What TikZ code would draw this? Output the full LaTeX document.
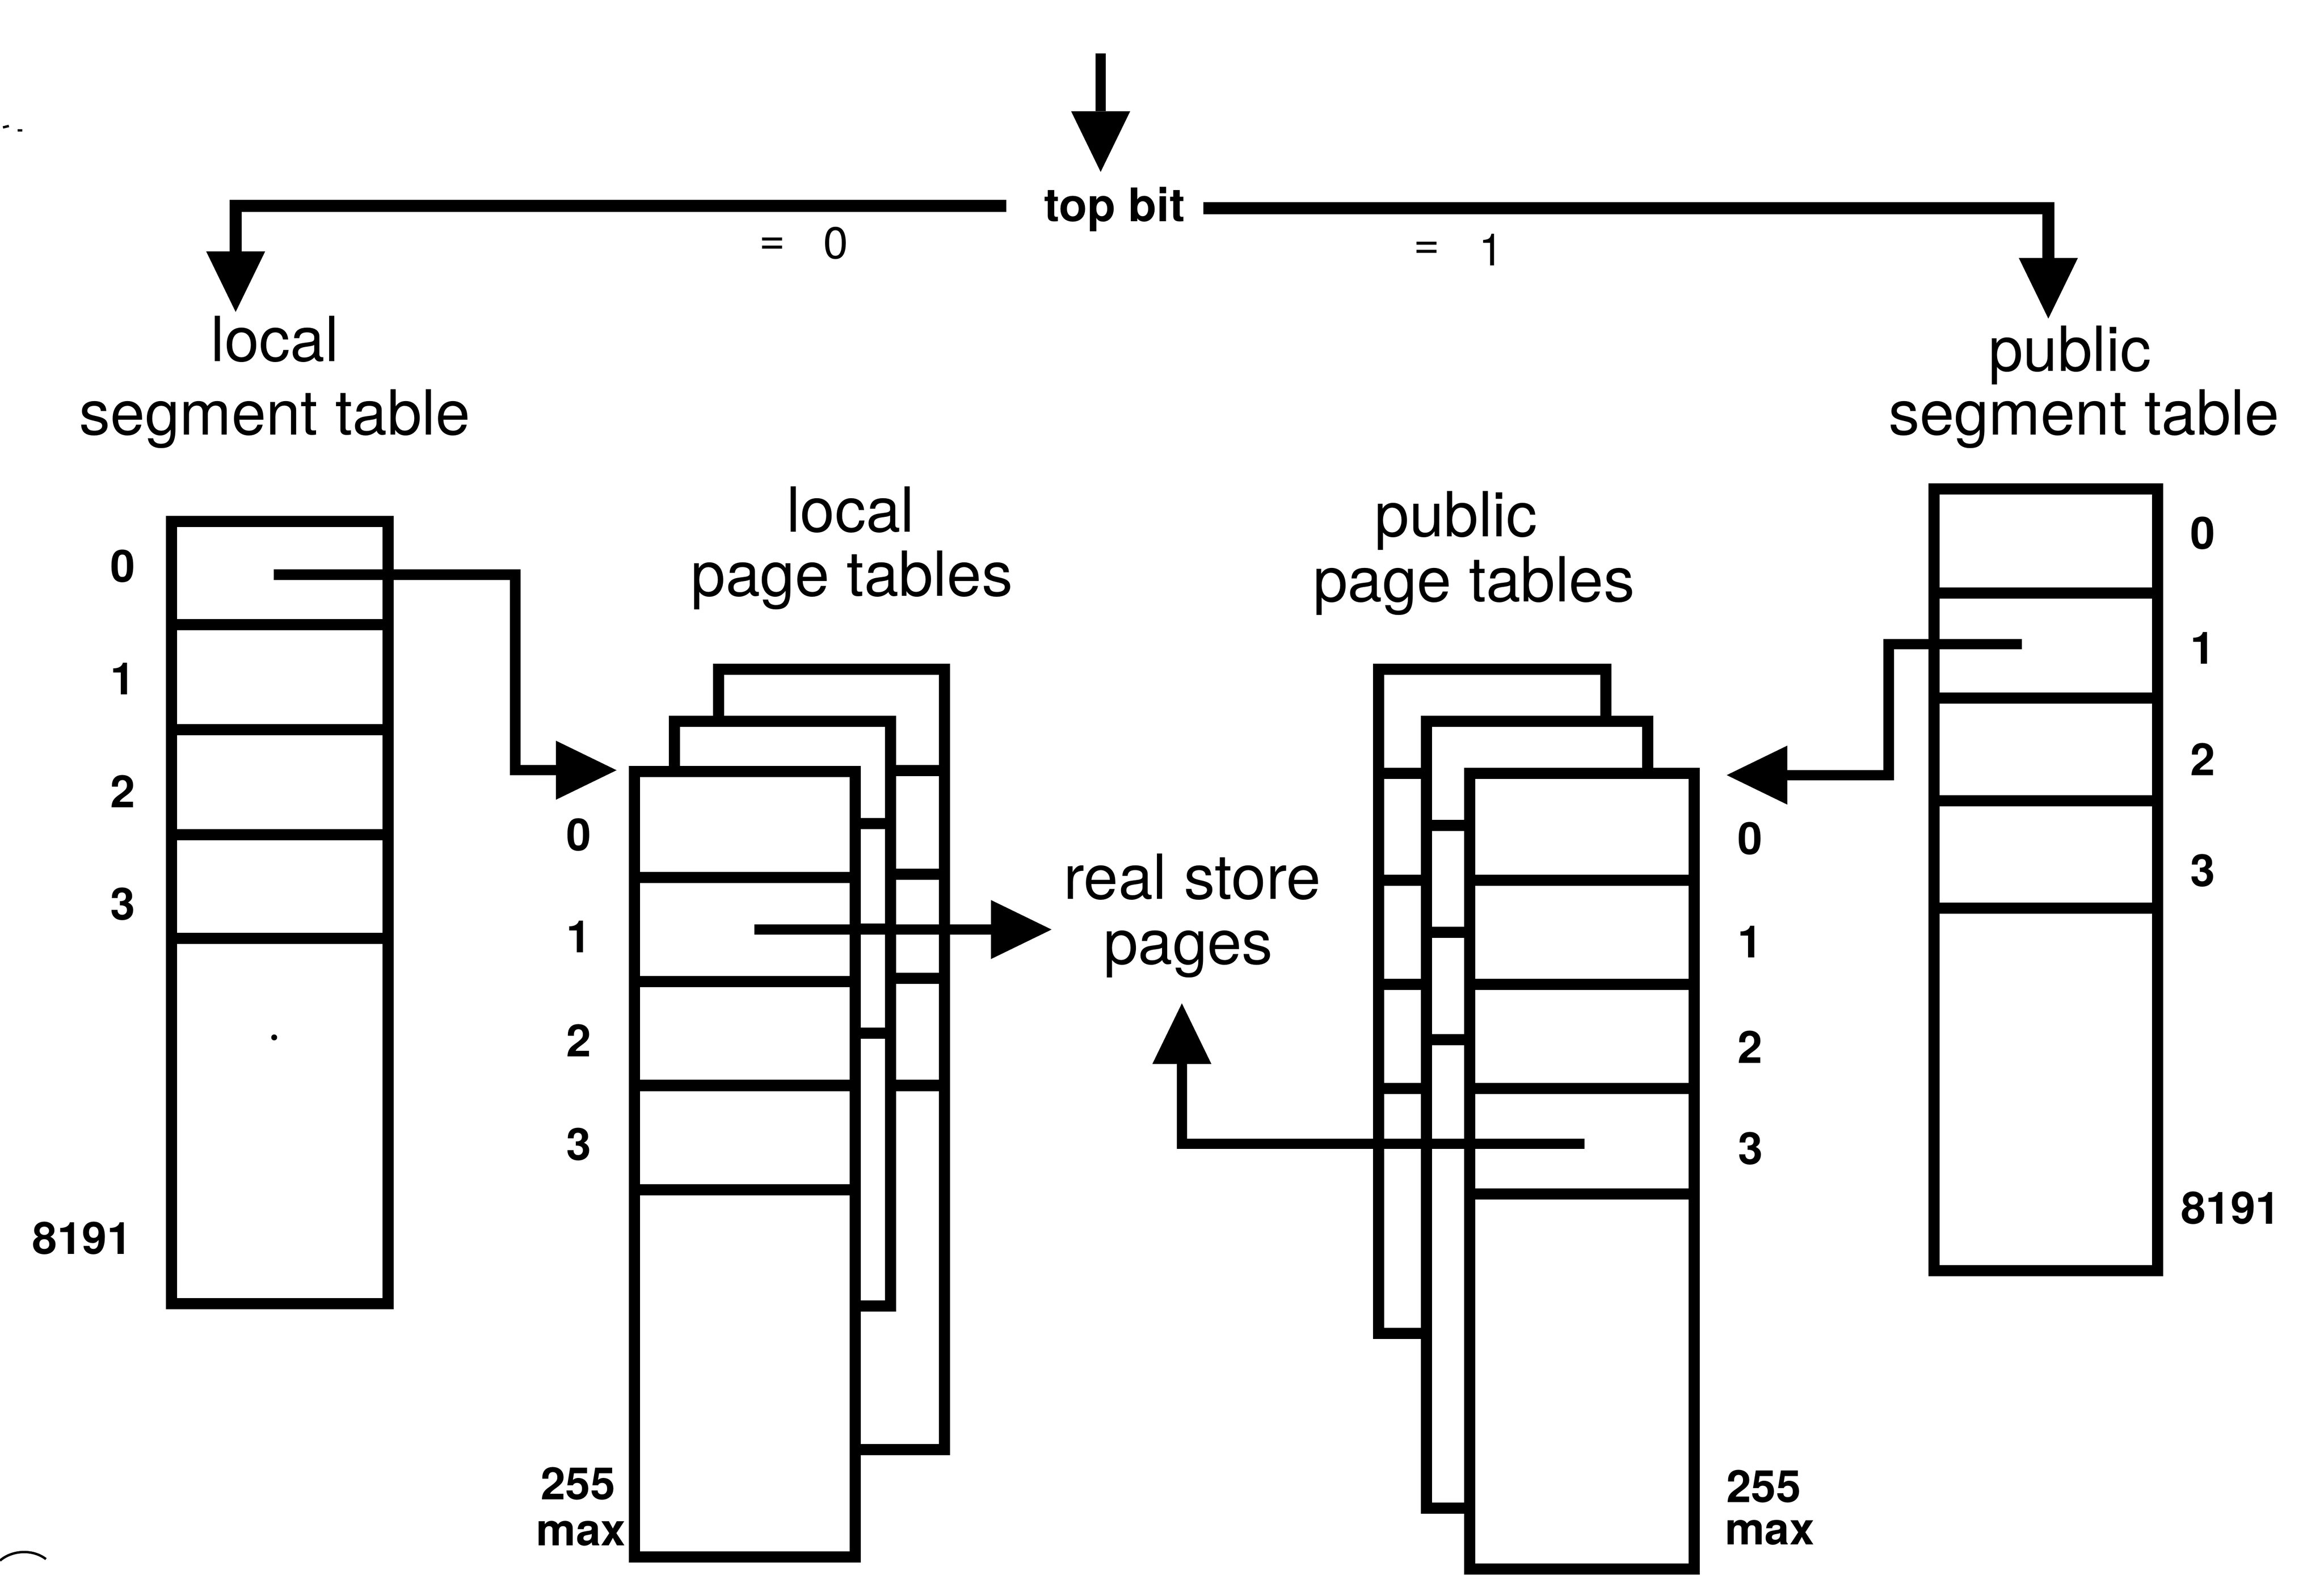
\documentclass[tikz,border=0pt]{standalone}
\usepackage{fontspec}
\setmainfont{TeX Gyre Heros}
\usetikzlibrary{arrows.meta}
\newcommand{\bigtxt}{\fontsize{39pt}{46pt}\selectfont}
\newcommand{\numtxt}{\fontsize{28pt}{30pt}\selectfont\bfseries}
\newcommand{\eqtxt}{\fontsize{28pt}{30pt}\selectfont}
\newcommand{\tbtxt}{\fontsize{29pt}{31pt}\selectfont\bfseries}
\tikzset{
  tblbox/.style={draw, line width=7pt, fill=white, line join=miter},
  rowline/.style={line width=7pt},
  wire/.style={line width=6.5pt, line join=miter},
  arr/.style={wire, -{Triangle[length=38pt, width=37pt, line width=0pt]}},
  big/.style={font=\bigtxt, inner sep=0pt, anchor=base},
  num/.style={font=\numtxt, inner sep=0pt},
  eqs/.style={font=\eqtxt, inner sep=0pt},
}
\begin{document}
\begin{tikzpicture}[x=0.03265cm, y=-0.03265cm]
\fill[white] (0,0) rectangle (1568,1076.6);
\useasboundingbox (0,0) rectangle (1568,1076.6);

% ---------- labels ----------
\node[big] (lstA) at (185.4,243.9) {local};
\node[big] (lstB) at (185.4,293.3) {segment table};
\node[big] (pstA) at (1396.5,250.3) {public};
\node[big] (pstB) at (1406,293.3) {segment table};
\node[big] (lptA) at (573.8,358.9) {local};
\node[big] (lptB) at (574.8,402.2) {page tables};
\node[big] (pptA) at (982.4,361.9) {public};
\node[big] (pptB) at (994.5,405.8) {page tables};
\node[big] (rspA) at (804.4,606.7) {real store};
\node[big] (rspB) at (801.7,650.6) {pages};

\node[font=\tbtxt, inner sep=0pt, anchor=base] (topbit) at (752,149.5) {top bit};
\node[eqs] (eqL) at (521,166) {=};
\node[eqs] (eqLv) at (564,164) {0};
\node[eqs] (eqR) at (962.7,169) {=};
\node[eqs] (eqRv) at (1006,168.5) {1};

% ---------- local segment table ----------
\draw[tblbox] (115.8,351.7) rectangle (261.8,879.7);
\foreach \yy in {421.5,492.4,563.3,633} \draw[rowline] (115.8,\yy) -- (261.8,\yy);
\fill (185,700) circle (2);
\node[num] (ls0) at (83,382) {0};
\node[num] (ls1) at (83,458) {1};
\node[num] (ls2) at (83,534) {2};
\node[num] (ls3) at (83,610) {3};
\node[num] (lsN) at (55.4,835.5) {8191};

% ---------- public segment table ----------
\draw[tblbox] (1305,329.8) rectangle (1455.8,857.5);
\foreach \yy in {400,470.9,540.4,612.7} \draw[rowline] (1305,\yy) -- (1455.8,\yy);
\node[num] (ps0) at (1486.3,359.8) {0};
\node[num] (ps1) at (1486.3,437.4) {1};
\node[num] (ps2) at (1486.3,512.3) {2};
\node[num] (ps3) at (1486.3,587.3) {3};
\node[num] (psN) at (1505,815) {8191};

% ---------- local page tables ----------
\draw[tblbox] (484.7,451.5) rectangle (637.1,978.2);
\foreach \yy in {520,590,660,732.4} \draw[rowline] (484.7,\yy) -- (637.1,\yy);
\draw[tblbox] (455,486.6) rectangle (601,881.2);
\foreach \yy in {555.8,627,697} \draw[rowline] (455,\yy) -- (601,\yy);
\draw[tblbox] (428,520.5) rectangle (577,1050.5);
\foreach \yy in {592,662.2,732.4,802.7} \draw[rowline] (428,\yy) -- (577,\yy);
\node[num] (lp0) at (390.5,563.3) {0};
\node[num] (lp1) at (390.5,632) {1};
\node[num] (lp2) at (390.5,702) {2};
\node[num] (lp3) at (390.5,772) {3};
\node[num] (lpN) at (390,1001) {255};
\node[num] (lpM) at (392,1034.6) {max};

% ---------- public page tables ----------
\draw[tblbox] (930.2,451.5) rectangle (1083.5,899.7);
\foreach \yy in {521.7,594,664.3,734.5} \draw[rowline] (930.2,\yy) -- (1083.5,\yy);
\draw[tblbox] (962.4,486.6) rectangle (1111.8,1017.5);
\foreach \yy in {556.8,629,701.4} \draw[rowline] (962.4,\yy) -- (1111.8,\yy);
\draw[tblbox] (991.7,521.7) rectangle (1143.1,1058.8);
\foreach \yy in {594,664.3,734.5,805.5} \draw[rowline] (991.7,\yy) -- (1143.1,\yy);
\node[num] (pp0) at (1180.6,565.9) {0};
\node[num] (pp1) at (1180.6,635.4) {1};
\node[num] (pp2) at (1180.6,706.3) {2};
\node[num] (pp3) at (1181,775) {3};
\node[num] (ppN) at (1190,1003) {255};
\node[num] (ppM) at (1194,1034) {max};

% ---------- connector end points ----------
\coordinate (inTop) at (742.6,36);
\coordinate (inTip) at (742.6,116);
\coordinate (tbL) at (679,139);
\coordinate (tbLtip) at (159,210.5);
\coordinate (tbR) at (812,140.5);
\coordinate (tbRtip) at (1382,215);
\coordinate (lsE0) at (184.7,387.8);
\coordinate (lsC) at (347.6,387.8);
\coordinate (lpIn) at (416,519.7);
\coordinate (psE1) at (1364,434.7);
\coordinate (psC) at (1274.3,434.7);
\coordinate (ppIn) at (1165,523);
\coordinate (lpE1) at (508.9,627.2);
\coordinate (rsL) at (709.5,627.2);
\coordinate (ppE3) at (1068.9,771.7);
\coordinate (ppC) at (797.4,771.7);
\coordinate (rsB) at (797.4,677);

% ---------- connectors ----------
\draw[arr] (inTop) -- (inTip);
\draw[arr, line width=7.5pt] (tbL) -| (tbLtip);
\draw[arr, line width=7.5pt] (tbR) -| (tbRtip);
\draw[arr] (lsE0) -- (lsC) |- (lpIn);
\draw[arr] (psE1) -- (psC) |- (ppIn);
\draw[arr] (lpE1) -- (rsL);
\draw[arr] (ppE3) -- (ppC) -- (rsB);

% ---------- scan marks ----------
\draw[line width=1.5pt] (0,1053) .. controls (8,1046) and (22,1045) .. (31,1052);
\draw[line width=1.5pt] (2,86) -- (6,85);
\draw[line width=1.5pt] (12,88) -- (15,88);
\end{tikzpicture}
\end{document}
